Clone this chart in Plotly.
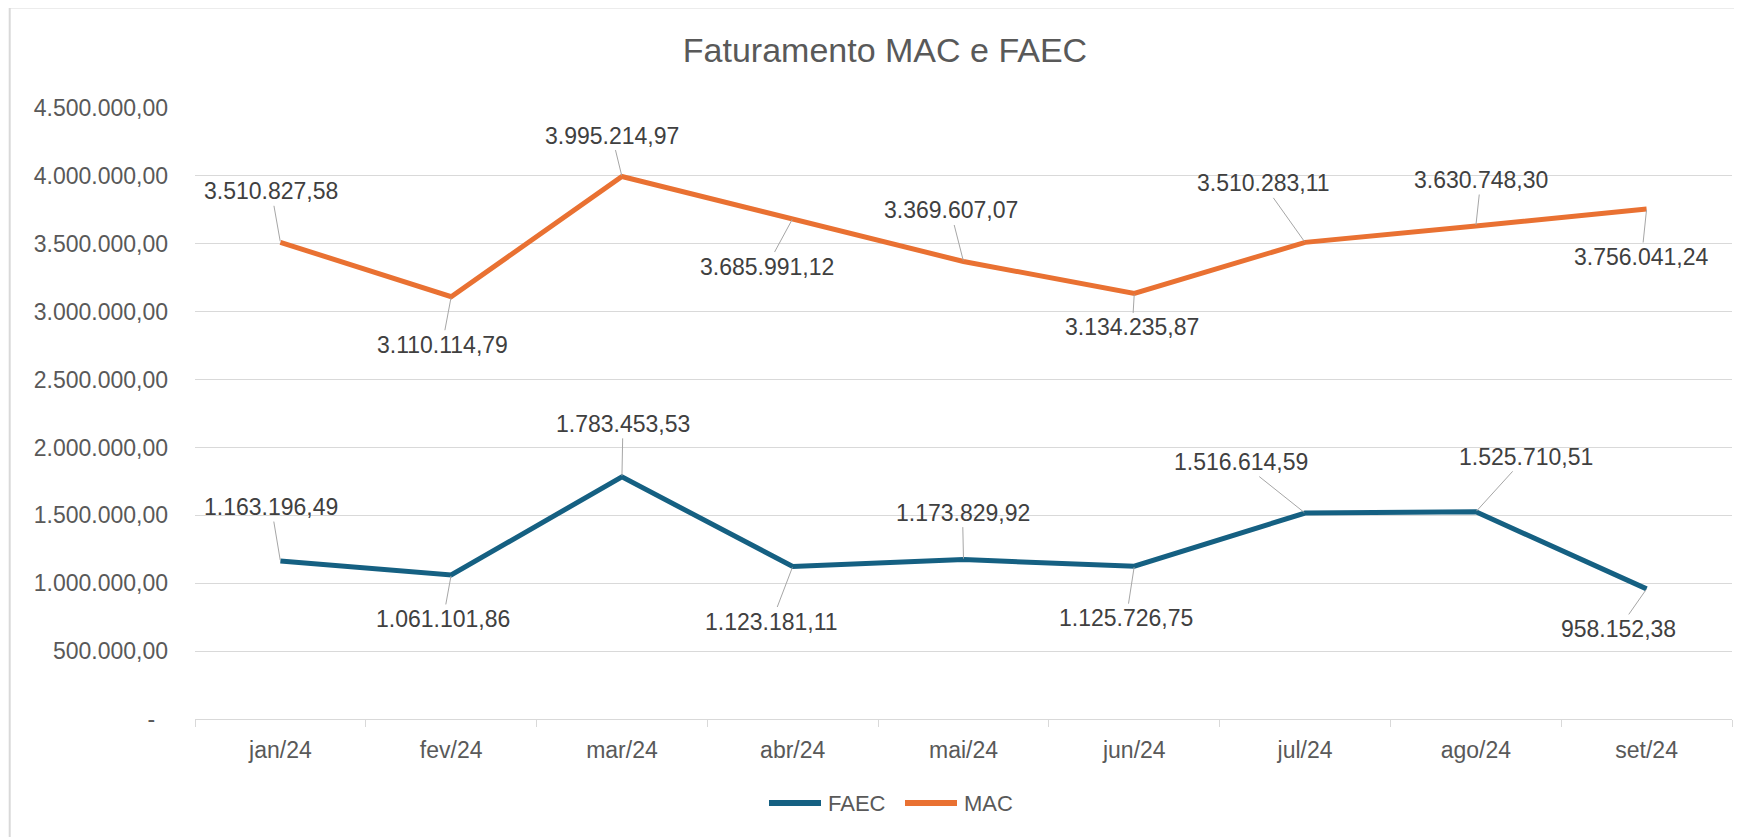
import plotly.graph_objects as go

# ---- data ----
months = ["jan/24", "fev/24", "mar/24", "abr/24", "mai/24", "jun/24", "jul/24", "ago/24", "set/24"]
faec = [1163196.49, 1061101.86, 1783453.53, 1123181.11, 1173829.92, 1125726.75, 1516614.59, 1525710.51, 958152.38]
mac = [3510827.58, 3110114.79, 3995214.97, 3685991.12, 3369607.07, 3134235.87, 3510283.11, 3630748.30, 3756041.24]
y_ticks = [0, 500000, 1000000, 1500000, 2000000, 2500000, 3000000, 3500000, 4000000, 4500000]
series_names = ["FAEC", "MAC"]
series_colors = ["#156082", "#E97132"]

# ---- label placement (pixel offsets from point) ----
mac_off = [(-9, -51), (-9, 48), (-10, -41), (-26, 48), (-13, -51), (-2, 34), (-42, -59), (5, -46), (-5, 48)]
faec_off = [(-9, -54), (-8, 44), (1, -53), (-21, 55), (-1, -47), (-8, 52), (-64, -51), (50, -55), (-28, 40)]

FONT = "Liberation Sans, Arial, sans-serif"
FS = 23

W, H = 1742, 837
L, R, T, B = 187, 18, 100, 126
pw, ph = W - L - R, H - T - B


def px(x):  # figure pixel -> paper x
    return (x - L) / pw


def py(y):  # figure pixel -> paper y
    return (H - B - y) / ph


def br(v):
    s = f"{v:,.2f}"
    return s.replace(",", "X").replace(".", ",").replace("X", ".")


tick_text = [br(v) if v else "-\u00a0\u00a0" for v in y_ticks]

fig = go.Figure()
for name, vals, col in zip(series_names, (faec, mac), series_colors):
    fig.add_trace(go.Scatter(x=months, y=vals, name=name, mode="lines",
                             line=dict(color=col, width=5), showlegend=False))

ann = []
for series, offs in ((mac, mac_off), (faec, faec_off)):
    for m, v, (dx, dy) in zip(months, series, offs):
        ann.append(dict(x=m, y=v, text=br(v), showarrow=True, arrowhead=0,
                        arrowwidth=1, arrowcolor="#A6A6A6", ax=dx, ay=dy,
                        standoff=1, font=dict(family=FONT, size=FS, color="#404040")))

# custom legend (long line swatches like the original)
shapes = [dict(type="rect", xref="paper", yref="paper",
               x0=px(1.7), x1=px(W + 10), y0=py(H + 10), y1=py(-0.5),
               line=dict(color="#D9D9D9", width=2), layer="below")]
leg_x = [759, 895]
for name, col, x0 in zip(series_names, series_colors, leg_x):
    shapes.append(dict(type="line", xref="paper", yref="paper",
                       x0=px(x0 + 2), x1=px(x0 + 54), y0=py(795), y1=py(795),
                       line=dict(color=col, width=6)))
    ann.append(dict(xref="paper", yref="paper", x=px(x0 + 59), y=py(795),
                    xanchor="left", yanchor="middle", text=name, showarrow=False,
                    font=dict(family=FONT, size=22, color="#595959")))

fig.update_layout(
    width=W, height=H,
    margin=dict(l=L, r=R, t=T, b=B),
    paper_bgcolor="white", plot_bgcolor="white",
    font=dict(family=FONT, size=FS, color="#595959"),
    title=dict(text="Faturamento MAC e FAEC", x=877 / W, xanchor="center",
               y=1 - 42 / H, yanchor="middle", yref="container", xref="container",
               font=dict(family=FONT, size=34, color="#595959")),
    showlegend=False,
    annotations=ann,
    shapes=shapes,
)
fig.update_xaxes(range=[-0.5, len(months) - 0.5],
                 showgrid=False, showline=True, linecolor="#D9D9D9", linewidth=1.3,
                 ticks="outside", tickson="boundaries", ticklen=7, tickcolor="#D9D9D9",
                 tickwidth=1.3, ticklabelstandoff=10, zeroline=False,
                 tickfont=dict(family=FONT, size=FS, color="#595959"))
fig.update_yaxes(range=[0, 4500000], tickvals=y_ticks, ticktext=tick_text,
                 showgrid=True, gridcolor="#D9D9D9", gridwidth=1.3, zeroline=False,
                 showline=False, ticks="", ticklabelstandoff=26,
                 tickfont=dict(family=FONT, size=FS, color="#595959"))

fig.write_html("out.html")
